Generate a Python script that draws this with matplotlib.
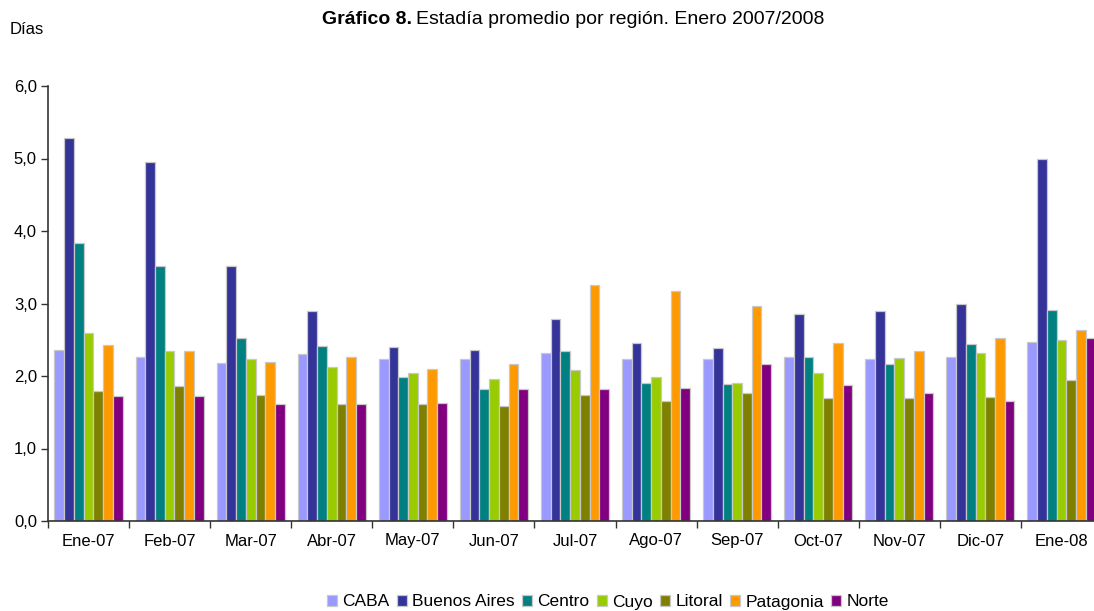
import matplotlib
matplotlib.use("Agg")
import matplotlib.pyplot as plt
import numpy as np
from matplotlib.ticker import FixedLocator, FuncFormatter

plt.rcParams['font.family'] = ['Liberation Sans', 'DejaVu Sans']

categories = ["Ene-07", "Feb-07", "Mar-07", "Abr-07", "May-07", "Jun-07", "Jul-07",
              "Ago-07", "Sep-07", "Oct-07", "Nov-07", "Dic-07", "Ene-08"]
series_names = ["CABA", "Buenos Aires", "Centro", "Cuyo", "Litoral", "Patagonia", "Norte"]

caba      = [2.36, 2.26, 2.18, 2.30, 2.23, 2.23, 2.32, 2.23, 2.23, 2.26, 2.24, 2.26, 2.47]
bsas      = [5.28, 4.95, 3.52, 2.89, 2.40, 2.36, 2.78, 2.46, 2.39, 2.86, 2.89, 3.00, 4.99]
centro    = [3.84, 3.52, 2.52, 2.42, 1.99, 1.82, 2.35, 1.90, 1.89, 2.26, 2.16, 2.44, 2.91]
cuyo      = [2.59, 2.35, 2.23, 2.12, 2.04, 1.96, 2.08, 1.98, 1.91, 2.04, 2.25, 2.32, 2.50]
litoral   = [1.79, 1.86, 1.74, 1.62, 1.62, 1.59, 1.74, 1.65, 1.77, 1.69, 1.69, 1.71, 1.94]
patagonia = [2.43, 2.35, 2.20, 2.26, 2.09, 2.16, 3.25, 3.17, 2.97, 2.46, 2.35, 2.52, 2.63]
norte     = [1.72, 1.72, 1.62, 1.62, 1.63, 1.82, 1.82, 1.83, 2.16, 1.88, 1.77, 1.65, 2.52]

values = [caba, bsas, centro, cuyo, litoral, patagonia, norte]
colors = ["#9999FF", "#333399", "#008080", "#99CC00", "#808000", "#FF9900", "#800080"]

W, H = 1094, 611
fig = plt.figure(figsize=(W / 100, H / 100), dpi=100)
ax = fig.add_axes([48 / W, (H - 521) / H, 1054 / W, (521 - 86) / H])

x = np.arange(len(categories))
n = len(series_names)
group_w = 0.84
bw = group_w / n
for i, (name, vals, c) in enumerate(zip(series_names, values, colors)):
    ax.bar(x - group_w / 2 + bw * (i + 0.5), vals, width=bw, color=c,
           edgecolor="#C8C8C8", linewidth=0.9, label=name)

ax.set_xlim(-0.5, len(categories) - 0.5)
ax.set_ylim(0, 6)
ax.set_yticks(np.arange(0, 7, 1))
ax.yaxis.set_major_formatter(FuncFormatter(lambda v, p: f"{v:.1f}".replace(".", ",")))
ax.set_xticks(x)
ax.set_xticklabels(categories)
ax.xaxis.set_minor_locator(FixedLocator(np.arange(-0.5, len(categories), 1)))
ax.tick_params(axis="x", which="major", length=0, pad=9, labelsize=12)
ax.tick_params(axis="x", which="minor", length=5, width=1, direction="out", color="#333333")
ax.tick_params(axis="y", length=5, width=1, direction="out", labelsize=12, color="#333333", pad=3)
for s in ["top", "right"]:
    ax.spines[s].set_visible(False)
for s in ["left", "bottom"]:
    ax.spines[s].set_color("#333333")
    ax.spines[s].set_linewidth(1.2)

fig.text(10 / W, 1 - 30 / H, "Días", fontsize=12, va="center", ha="left")

t1 = fig.text(0, 1 - 20 / H, "Gráfico 8.", fontsize=14, fontweight="bold", va="center", ha="left")
t2 = fig.text(0, 1 - 20 / H, "Estadía promedio por región. Enero 2007/2008", fontsize=14,
              va="center", ha="left")
r = fig.canvas.get_renderer()
w1 = t1.get_window_extent(r).width
w2 = t2.get_window_extent(r).width
gap = 4
total = w1 + gap + w2
start = 573 - total / 2
t1.set_x(start / W)
t2.set_x((start + w1 + gap) / W)

fig.legend(loc="center", bbox_to_anchor=(608 / W, 1 - 602 / H), ncol=7, frameon=False,
           fontsize=12.5, handlelength=0.6, handleheight=0.6, handletextpad=0.3,
           columnspacing=0.4, borderaxespad=0)

fig.savefig("out.png", dpi=100)
